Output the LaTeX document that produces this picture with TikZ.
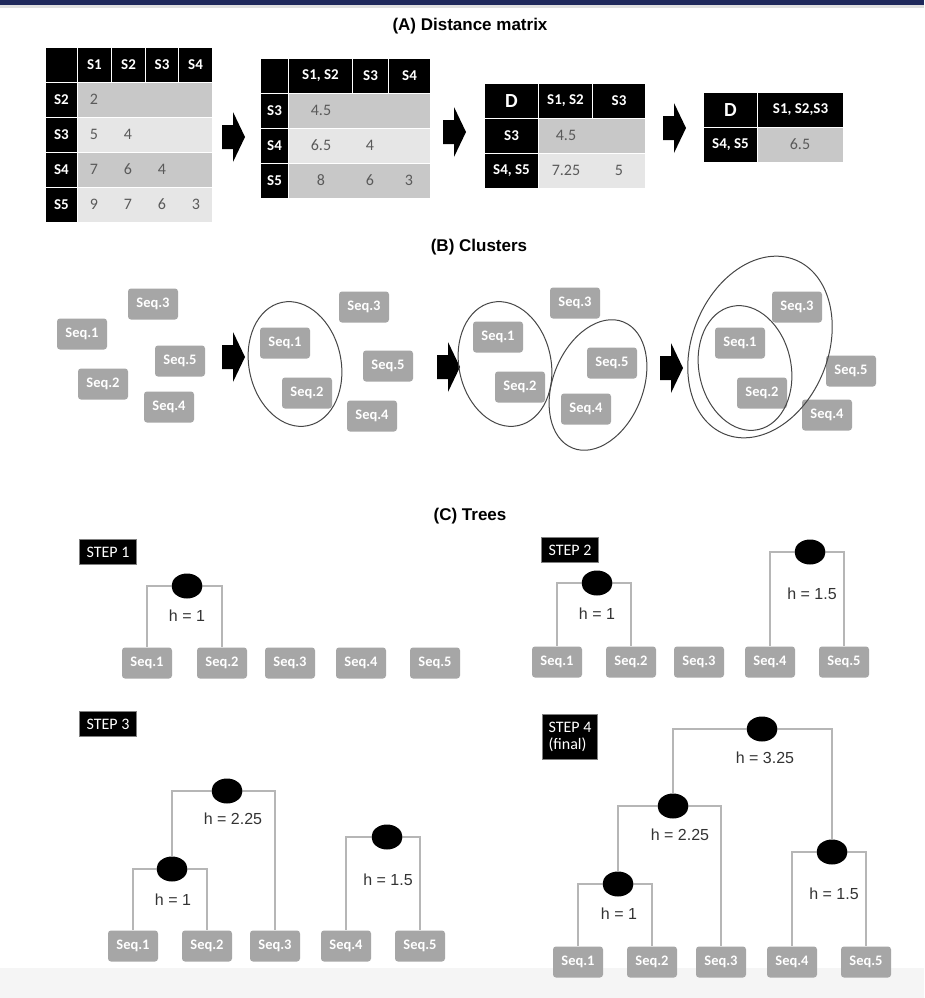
\documentclass[tikz,border=0pt]{standalone}
\usepackage{fontspec}
\setmainfont{Liberation Sans}
\newfontfamily\calibri{Carlito}
\usetikzlibrary{shapes.geometric}

\definecolor{navy}{RGB}{31,41,92}
\definecolor{cellmid}{RGB}{200,200,200}
\definecolor{celllight}{RGB}{230,230,230}
\definecolor{numgray}{RGB}{90,90,90}
\definecolor{seqgray}{RGB}{166,166,166}
\definecolor{branchgray}{RGB}{182,182,182}
\definecolor{ringgray}{RGB}{70,70,70}

\tikzset{
  hd/.style={fill=black, draw=white, line width=1pt, text=white, inner sep=0pt,
    anchor=north west, minimum height=35, font=\calibri\bfseries\fontsize{15}{15}\selectfont},
  dk/.style={draw=white, line width=1pt, inner sep=0pt, anchor=north west, minimum height=35},
  num/.style={text=numgray, font=\calibri\fontsize{16}{16}\selectfont},
  seq/.style={fill=seqgray, text=white, rounded corners=3, minimum width=50, minimum height=31,
    inner sep=0pt, font=\calibri\bfseries\fontsize{14.5}{14.5}\selectfont},
  hnode/.style={ellipse, fill=black, minimum width=31, minimum height=25, inner sep=0pt},
  hlabel/.style={text=black!80, font=\fontsize{16}{16}\selectfont},
  branch/.style={draw=branchgray, line width=1.3pt},
  ring/.style={draw=ringgray, line width=1pt},
  steplabel/.style={fill=black, draw=gray, text=white, inner sep=0pt, minimum width=57,
    minimum height=25, align=left, font=\calibri\fontsize{16}{17}\selectfont},
  sectitle/.style={font=\bfseries\fontsize{17}{17}\selectfont},
  blockarrow/.pic={\fill (0,-12) -- (11,-12) -- (11,-25) -- (23,0) -- (11,25) -- (11,12) -- (0,12) -- cycle;},
}

\begin{document}
\begin{tikzpicture}[x=1pt,y=-1pt]
\useasboundingbox (0,0) rectangle (924,998);
\fill[white] (0,0) rectangle (924,998);
\fill[navy] (0,0) rectangle (924,5);
\fill[black!12] (0,5) rectangle (924,8);
\fill[black!4] (0,968) rectangle (924,998);

% (A) distance matrices
\node[sectitle] (tA) at (470,26) {(A) Distance matrix};

\foreach \x/\w/\t [count=\i] in {45/32/{}, 77/34/S1, 111/34/S2, 145/33/S3, 178/34/S4}
  \node[hd, minimum width=\w] (ma-h\i) at (\x,47) {\t};
\foreach \y/\t/\c [count=\i] in {82/S2/cellmid, 117/S3/celllight, 152/S4/cellmid, 187/S5/celllight} {
  \node[hd, minimum width=32] (ma-r\i) at (45,\y) {\t};
  \node[dk, fill=\c, minimum width=135] (ma-c\i) at (77,\y) {};
}
\foreach \x/\y/\v [count=\i] in {94/99.5/2, 94/134.5/5, 128/134.5/4, 94/169.5/7, 128/169.5/6,
    162/169.5/4, 94/204.5/9, 128/204.5/7, 162/204.5/6, 196/204.5/3}
  \node[num] (ma-n\i) at (\x,\y) {\v};

\pic at (222,137) {blockarrow};

\foreach \x/\w/\t [count=\i] in {260/28/{}, 288/64/{S1, S2}, 352/36/S3, 388/42/S4}
  \node[hd, minimum width=\w] (mb-h\i) at (\x,58) {\t};
\foreach \y/\t/\c [count=\i] in {93/S3/cellmid, 128/S4/celllight, 163/S5/cellmid} {
  \node[hd, minimum width=28] (mb-r\i) at (260,\y) {\t};
  \node[dk, fill=\c, minimum width=142] (mb-c\i) at (288,\y) {};
}
\foreach \x/\y/\v [count=\i] in {321/110.5/4.5, 321/145.5/6.5, 370/145.5/4, 321/180.5/8,
    370/180.5/6, 409/180.5/3}
  \node[num] (mb-n\i) at (\x,\y) {\v};

\pic at (443,132) {blockarrow};

\foreach \x/\w/\t [count=\i] in {484/54/{\fontsize{20}{20}\selectfont D}, 538/54/{S1, S2}, 592/53/S3}
  \node[hd, minimum width=\w] (mc-h\i) at (\x,83) {\t};
\foreach \y/\t/\c [count=\i] in {118/S3/cellmid, 153/{S4, S5}/celllight} {
  \node[hd, minimum width=54] (mc-r\i) at (484,\y) {\t};
  \node[dk, fill=\c, minimum width=107] (mc-c\i) at (538,\y) {};
}
\node[num] (mc-n1) at (566,135.5) {4.5};
\node[num] (mc-n2) at (566,170.5) {7.25};
\node[num] (mc-n3) at (619,170.5) {5};

\pic at (663,128) {blockarrow};

\node[hd, minimum width=54] (md-h1) at (703,92) {\fontsize{20}{20}\selectfont D};
\node[hd, minimum width=86] (md-h2) at (757,92) {S1, S2,S3};
\node[hd, minimum width=54] (md-r1) at (703,127) {S4, S5};
\node[dk, fill=cellmid, minimum width=86] (md-c1) at (757,127) {};
\node[num] (md-n1) at (800,144.5) {6.5};

% (B) clusters
\node[sectitle] (tB) at (479,247) {(B) Clusters};

\node[seq] (ka1) at (82,334) {Seq.1};
\node[seq] (ka2) at (103,384) {Seq.2};
\node[seq] (ka3) at (153,304) {Seq.3};
\node[seq] (ka4) at (169,407) {Seq.4};
\node[seq] (ka5) at (180,361) {Seq.5};

\pic at (222,357) {blockarrow};

\node[seq] (kb1) at (285,343) {Seq.1};
\node[seq] (kb2) at (307,393) {Seq.2};
\node[seq] (kb3) at (364,307) {Seq.3};
\node[seq] (kb4) at (372,416) {Seq.4};
\node[seq] (kb5) at (388,366) {Seq.5};
\draw[ring, rotate around={12:(295,364)}] (295,364) ellipse [x radius=46, y radius=63];

\pic at (437,367) {blockarrow};

\node[seq] (kc1) at (498,337) {Seq.1};
\node[seq] (kc2) at (520,387) {Seq.2};
\node[seq] (kc3) at (575,303) {Seq.3};
\node[seq] (kc4) at (586,409) {Seq.4};
\node[seq] (kc5) at (612,363) {Seq.5};
\draw[ring, rotate around={12:(505,364)}] (505,364) ellipse [x radius=46, y radius=63];
\draw[ring, rotate around={-22:(598,385)}] (598,385) ellipse [x radius=45, y radius=68];

\pic at (660,368) {blockarrow};

\node[seq] (kd1) at (740,343) {Seq.1};
\node[seq] (kd2) at (762,393) {Seq.2};
\node[seq] (kd3) at (797,307) {Seq.3};
\node[seq] (kd4) at (827,415) {Seq.4};
\node[seq] (kd5) at (851,371) {Seq.5};
\draw[ring, rotate around={12:(745,368)}] (745,368) ellipse [x radius=46, y radius=63];
\draw[ring, rotate around={-22:(760,347)}] (760,347) ellipse [x radius=68, y radius=94];

% (C) trees
\node[sectitle] (tC) at (470,516) {(C) Trees};

% step 1
\node[steplabel] (st1) at (108,552) {STEP 1};
\foreach \x [count=\i] in {147,222,290,361,435}
  \node[seq] (sa\i) at (\x,663) {Seq.\i};
\node[hnode] (na1) at (187,586) {};
\draw[branch] (na1) -| (sa1) (na1) -| (sa2);
\node[hlabel] (ha1) at (187,616) {h = 1};

% step 2
\node[steplabel] (st2) at (570,550) {STEP 2};
\foreach \x [count=\i] in {557,631,699,770,844}
  \node[seq] (sb\i) at (\x,662) {Seq.\i};
\node[hnode] (nb1) at (597,583) {};
\node[hnode] (nb2) at (810,552) {};
\draw[branch] (nb1) -| (sb1) (nb1) -| (sb2);
\draw[branch] (nb2) -| (sb4) (nb2) -| (sb5);
\node[hlabel] (hb1) at (597,614) {h = 1};
\node[hlabel] (hb2) at (812,594) {h = 1.5};

% step 3
\node[steplabel] (st3) at (108,724) {STEP 3};
\foreach \x [count=\i] in {133,207,275,346,420}
  \node[seq] (sc\i) at (\x,946) {Seq.\i};
\node[hnode] (nc1) at (172,869) {};
\node[hnode] (nc2) at (227,791) {};
\node[hnode] (nc3) at (387,837) {};
\draw[branch] (nc1) -| (sc1) (nc1) -| (sc2);
\draw[branch] (nc2) -| (nc1) (nc2) -| (sc3);
\draw[branch] (nc3) -| (sc4) (nc3) -| (sc5);
\node[hlabel] (hc1) at (173,900) {h = 1};
\node[hlabel] (hc2) at (233,819) {h = 2.25};
\node[hlabel] (hc3) at (388,880) {h = 1.5};

% step 4
\node[steplabel, minimum width=55, minimum height=45] (st4) at (570,737) {STEP 4\\(final)};
\foreach \x [count=\i] in {578,652,721,792,866}
  \node[seq] (sd\i) at (\x,962) {Seq.\i};
\node[hnode] (nd1) at (618,884) {};
\node[hnode] (nd2) at (673,806) {};
\node[hnode] (nd3) at (832,852) {};
\node[hnode] (nd4) at (762,729) {};
\draw[branch] (nd1) -| (sd1) (nd1) -| (sd2);
\draw[branch] (nd2) -| (nd1) (nd2) -| (sd3);
\draw[branch] (nd3) -| (sd4) (nd3) -| (sd5);
\draw[branch] (nd4) -| (nd2) (nd4) -| (nd3);
\node[hlabel] (hd1) at (619,914) {h = 1};
\node[hlabel] (hd2) at (680,835) {h = 2.25};
\node[hlabel] (hd3) at (834,894) {h = 1.5};
\node[hlabel] (hd4) at (765,758) {h = 3.25};
\end{tikzpicture}
\end{document}
